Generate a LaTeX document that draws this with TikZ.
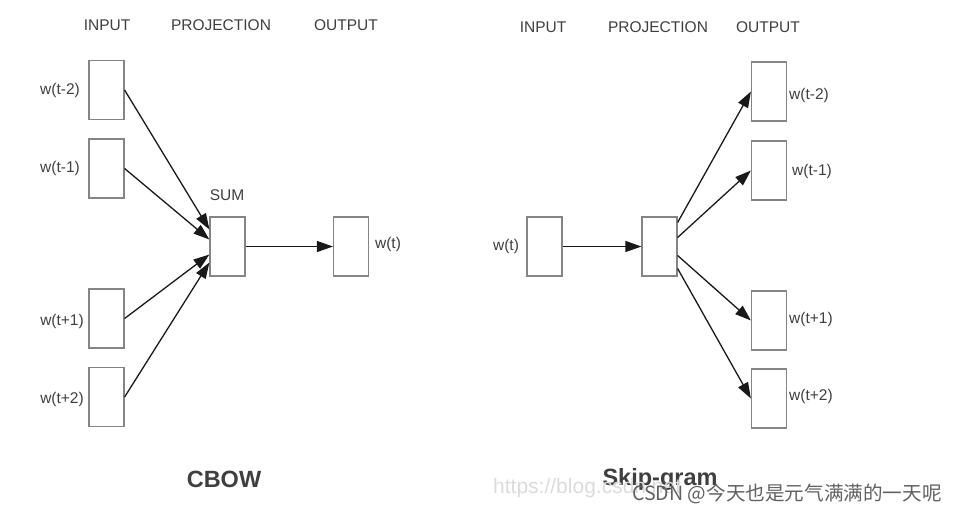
\documentclass[tikz,border=0pt]{standalone}
\usepackage{fontspec}
\setmainfont{Liberation Sans}
\newfontfamily\cjkfont{Noto Sans CJK SC}
\usetikzlibrary{arrows.meta}
\definecolor{txt}{HTML}{3F3F3F}
\definecolor{boxc}{HTML}{858585}
\begin{document}
\begin{tikzpicture}[x=1pt,y=-1pt,
  vec/.style={draw=boxc,line width=1.2pt,minimum width=35pt,minimum height=59pt,inner sep=0pt,fill=white},
  lab/.style={text=txt,font=\fontsize{15.5}{18}\selectfont,inner sep=0pt},
  ttl/.style={text=txt,font=\fontsize{23.5}{27}\bfseries\selectfont,inner sep=0pt},
  arr/.style={-{Triangle[length=16pt,width=11pt]},line width=1.3pt,black!90}]
\useasboundingbox (0,0) rectangle (958,515);
% ---------- CBOW ----------
\node[lab] (hin1) at (107,25) {INPUT};
\node[lab] (hpr1) at (221,25) {PROJECTION};
\node[lab] (hout1) at (346,25) {OUTPUT};
\node[vec] (a1) at (106.5,90) {};
\node[vec] (a2) at (106.5,168.5) {};
\node[vec] (a3) at (106.5,318.5) {};
\node[vec] (a4) at (106.5,397) {};
\node[lab] (la1) at (60,90) {w(t-2)};
\node[lab] (la2) at (60,168.5) {w(t-1)};
\node[lab] (la3) at (62,321) {w(t+1)};
\node[lab] (la4) at (62,399) {w(t+2)};
\node[vec] (sum) at (227.5,246.5) {};
\node[lab] (lsum) at (227,195) {SUM};
\node[vec] (out) at (351,246.5) {};
\node[lab] (lout) at (388,244) {w(t)};
\draw[arr] (a1.east) -- ([yshift=17pt]sum.west);
\draw[arr] (a2.east) -- ([yshift=7pt]sum.west);
\draw[arr] (a3.east) -- ([yshift=-8pt]sum.west);
\draw[arr] (a4.east) -- ([yshift=-16pt]sum.west);
\draw[arr] (sum.east) -- (out.west);
\node[ttl] (cbow) at (224,479) {CBOW};
% ---------- Skip-gram ----------
\node[lab] (hin2) at (543,27) {INPUT};
\node[lab] (hpr2) at (658,27) {PROJECTION};
\node[lab] (hout2) at (768,27) {OUTPUT};
\node[vec] (win) at (544.5,246.5) {};
\node[lab] (lwin) at (506,246) {w(t)};
\node[vec] (proj) at (659.5,246.5) {};
\node[vec] (b1) at (769,91.5) {};
\node[vec] (b2) at (769,170.5) {};
\node[vec] (b3) at (769,320.5) {};
\node[vec] (b4) at (769,398.5) {};
\node[lab,anchor=west] (lb1) at (789,95) {w(t-2)};
\node[lab,anchor=west] (lb2) at (792,171) {w(t-1)};
\node[lab,anchor=west] (lb3) at (789,319) {w(t+1)};
\node[lab,anchor=west] (lb4) at (789,396) {w(t+2)};
\draw[arr] (win.east) -- (proj.west);
\draw[arr] ([yshift=24pt]proj.east) -- (b1.west);
\draw[arr] ([yshift=9pt]proj.east) -- (b2.west);
\draw[arr] ([yshift=-9pt]proj.east) -- (b3.west);
\draw[arr] ([yshift=-22pt]proj.east) -- (b4.west);
\node[ttl] (skip) at (660,479) {Skip-gram};
% ---------- watermark ----------
\node[text=black!14,font=\fontsize{21}{24}\selectfont,inner sep=0pt,anchor=west] (url) at (493,488) {https://blog.csdn.net};
\node[text=black!62,font=\cjkfont\fontsize{19.6}{24}\selectfont,inner sep=0pt,anchor=west] (wm) at (632,494) {CSDN @今天也是元气满满的一天呢};
\end{tikzpicture}
\end{document}
